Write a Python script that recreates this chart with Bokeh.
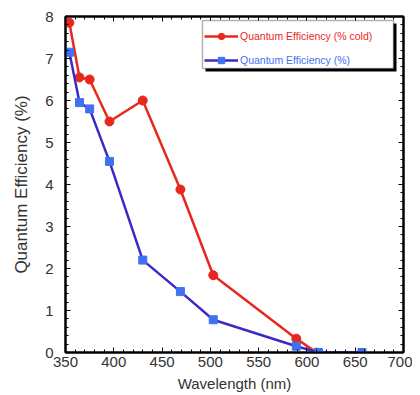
from bokeh.plotting import figure
from bokeh.models import (Range1d, LinearAxis, Legend, LegendItem, SingleIntervalTicker, BoxAnnotation,
                          ColumnDataSource, CustomJSTickFormatter)
from bokeh.embed import file_html
from bokeh.resources import INLINE

# Data
wl_cold = [354, 364.5, 375, 395.5, 430, 469, 503, 589, 610]
qe_cold = [7.85, 6.55, 6.5, 5.5, 6.0, 3.88, 1.84, 0.33, 0.0]
wl_warm = [354, 364.5, 375, 395.5, 430, 469, 503, 589, 612, 657]
qe_warm = [7.15, 5.95, 5.8, 4.55, 2.2, 1.45, 0.78, 0.15, 0.0, 0.0]
x_ticks = [350, 400, 450, 500, 550, 600, 650, 700]
y_ticks = [0, 1, 2, 3, 4, 5, 6, 7, 8]

RED = "#e8281e"
BLUE_LINE = "#3a2bc4"
BLUE_MARK = "#3f72f2"
FONT = "Liberation Sans"

p = figure(width=412, height=394, output_backend="svg", toolbar_location=None,
           x_range=Range1d(350, 700), y_range=Range1d(0, 8),
           min_border_left=65, min_border_top=16, min_border_right=9, min_border_bottom=42)
p.frame_width = 338
p.frame_height = 336
p.grid.visible = False
p.outline_line_color = "black"
p.outline_line_width = 2

for ax in [p.xaxis[0], p.yaxis[0]]:
    ax.major_label_text_font = FONT
    ax.major_label_text_font_size = "15px"
    ax.major_label_text_color = "#333333"
    ax.axis_label_text_font = FONT
    ax.axis_label_text_font_size = "15px"
    ax.axis_label_text_font_style = "normal"
    ax.axis_label_text_color = "#333333"
    ax.major_tick_in = 5
    ax.major_tick_out = 0
    ax.minor_tick_in = 3
    ax.minor_tick_out = 0
    ax.axis_line_width = 2

p.yaxis.axis_label_text_font_size = "17px"
p.xaxis.ticker = SingleIntervalTicker(interval=50, num_minor_ticks=5)
p.yaxis.ticker = SingleIntervalTicker(interval=1, num_minor_ticks=5)
p.xaxis.axis_label = "Wavelength (nm)"
p.yaxis.axis_label = "Quantum Efficiency (%)"
p.xaxis.axis_label_standoff = 5
p.yaxis.axis_label_standoff = 11
p.xaxis.major_label_standoff = 4
p.yaxis.major_label_standoff = 12

# Mirror axes on top and right (ticks only)
for loc, interval in [("above", 50), ("right", 1)]:
    ax = LinearAxis(ticker=SingleIntervalTicker(interval=interval, num_minor_ticks=5),
                    formatter=CustomJSTickFormatter(code="return ''"),
                    major_tick_in=5, major_tick_out=0,
                    minor_tick_in=3, minor_tick_out=0, axis_line_width=2)
    p.add_layout(ax, loc)

src_c = ColumnDataSource(dict(x=wl_cold, y=qe_cold))
src_w = ColumnDataSource(dict(x=wl_warm, y=qe_warm))

lc = p.line("x", "y", source=src_c, line_color=RED, line_width=2.5)
mc = p.scatter("x", "y", source=src_c, marker="circle", size=9, color=RED)
lw = p.line("x", "y", source=src_w, line_color=BLUE_LINE, line_width=2.5)
mw = p.scatter("x", "y", source=src_w, marker="square", size=8, color=BLUE_MARK)

# legend box with shadow (data-space decoration)
px_x = 350 / 338
px_y = 8 / 336
box_l, box_r, box_t, box_b = 350 + 137 * px_x, 350 + 328 * px_x, 8 - 4 * px_y, 8 - 52 * px_y
shadow = BoxAnnotation(left=box_l + 3 * px_x, right=box_r + 3 * px_x, top=box_t - 3 * px_y,
                       bottom=box_b - 3 * px_y, fill_color="black", fill_alpha=1, line_color=None)
box = BoxAnnotation(left=box_l, right=box_r, top=box_t, bottom=box_b,
                    fill_color="white", fill_alpha=1, line_color="black", line_width=1.5)
p.add_layout(shadow)
p.add_layout(box)

common = dict(label_text_font=FONT, label_text_font_size="10.5px", glyph_width=34, glyph_height=16,
              border_line_color=None, background_fill_alpha=0, padding=4, spacing=0, margin=0,
              label_standoff=2, label_height=16)
leg1 = Legend(items=[LegendItem(label="Quantum Efficiency (% cold)", renderers=[lc, mc])],
              location=(139, 308), label_text_color=RED, **common)
leg2 = Legend(items=[LegendItem(label="Quantum Efficiency (%)", renderers=[lw, mw])],
              location=(139, 284), label_text_color=BLUE_MARK, **common)
p.add_layout(leg1)
p.add_layout(leg2)

open("out.html", "w").write(file_html(p, INLINE))
